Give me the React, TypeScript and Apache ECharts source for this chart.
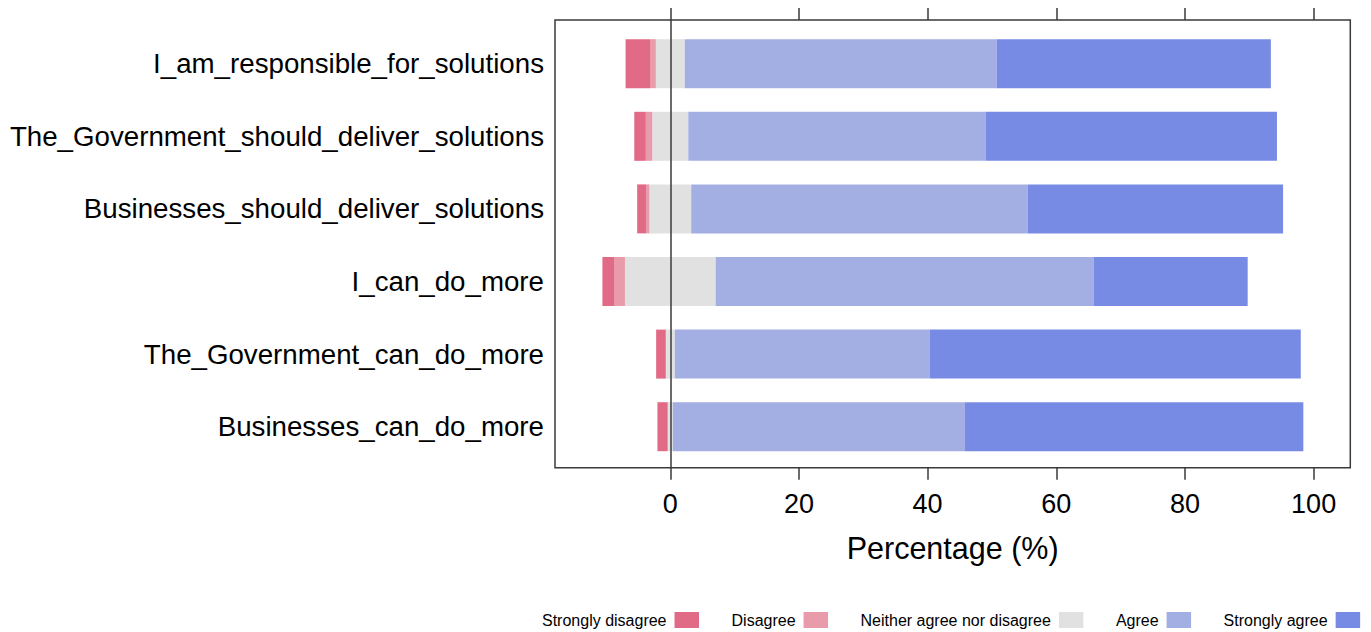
import React, { useEffect, useRef } from "react";
import * as echarts from "echarts";

// ---------- data ----------
const categories = [
  "I_am_responsible_for_solutions",
  "The_Government_should_deliver_solutions",
  "Businesses_should_deliver_solutions",
  "I_can_do_more",
  "The_Government_can_do_more",
  "Businesses_can_do_more",
];
const levelNames = [
  "Strongly disagree",
  "Disagree",
  "Neither agree nor disagree",
  "Agree",
  "Strongly agree",
];
const stronglyDisagree = [3.8, 1.8, 1.4, 1.8, 1.5, 1.6];
const disagree = [0.9, 1.0, 0.5, 1.7, 0, 0];
const neutral = [4.5, 5.6, 6.5, 14.1, 1.4, 0.8];
const agree = [48.5, 46.2, 52.3, 58.8, 39.6, 45.4];
const stronglyAgree = [42.6, 45.3, 39.7, 23.9, 57.7, 52.6];
const xTicks = [0, 20, 40, 60, 80, 100];
const xMin = -17.92;
const xMax = 105.7;

// ---------- styles ----------
const levelColors = ["#E16A86", "#E89BAA", "#E1E1E1", "#A3AEE3", "#778BE4"];
const FONT = "'Liberation Sans', Arial, Helvetica, sans-serif";
const INK = "#3a3a3a";

export default function App() {
  const ref = useRef<HTMLDivElement>(null);

  useEffect(() => {
    if (!ref.current) return;
    const chart = echarts.init(ref.current, undefined, { renderer: "svg" });

    const bar = (name: string, data: number[], color: string) => ({
      type: "bar",
      name,
      stack: "likert",
      xAxisIndex: 2,
      yAxisIndex: 1,
      barWidth: 49,
      data,
      itemStyle: { color },
      z: 3,
      emphasis: { disabled: true },
    });

    const option: any = {
      animation: false,
      grid: [
        {
          left: 555,
          top: 20,
          width: 795.3,
          height: 447.7,
          show: true,
          borderColor: INK,
          borderWidth: 1.5,
          backgroundColor: "transparent",
        },
        { left: 555, top: 27.4, width: 795.3, height: 435.6 },
      ],
      xAxis: [
        {
          gridIndex: 0,
          type: "value",
          position: "bottom",
          min: xMin,
          max: xMax,
          axisLine: { show: false },
          splitLine: { show: false },
          axisTick: {
            show: true,
            length: 12,
            customValues: xTicks,
            lineStyle: { color: INK, width: 1.5 },
          },
          axisLabel: {
            customValues: xTicks,
            margin: 23,
            fontSize: 27,
            color: "#000",
            fontFamily: FONT,
          },
          name: "Percentage (%)",
          nameLocation: "middle",
          nameGap: 65,
          nameTextStyle: { fontSize: 30.5, color: "#000", fontFamily: FONT },
        },
        {
          gridIndex: 0,
          type: "value",
          position: "top",
          min: xMin,
          max: xMax,
          axisLine: { show: false },
          splitLine: { show: false },
          axisTick: {
            show: true,
            length: 12,
            customValues: xTicks,
            lineStyle: { color: INK, width: 1.5 },
          },
          axisLabel: { show: false },
        },
        { gridIndex: 1, type: "value", min: xMin, max: xMax, show: false },
      ],
      yAxis: [
        { gridIndex: 0, type: "value", min: 0, max: 1, show: false },
        {
          gridIndex: 1,
          type: "category",
          data: categories,
          inverse: true,
          axisLine: { show: false },
          axisTick: { show: false },
          splitLine: { show: false },
          axisLabel: {
            margin: 11,
            fontSize: 27.7,
            color: "#000",
            fontFamily: FONT,
            padding: [6, 0, 0, 0],
          },
        },
      ],
      legend: {
        left: 542,
        top: 612,
        padding: 0,
        itemWidth: 24.5,
        itemHeight: 16,
        itemGap: 32.5,
        align: "right",
        icon: "rect",
        selectedMode: false,
        data: levelNames,
        textStyle: {
          fontSize: 16,
          color: "#000",
          fontFamily: FONT,
          padding: [0, 3, 0, 0],
        },
      },
      series: [
        {
          type: "scatter",
          name: "zero",
          xAxisIndex: 0,
          yAxisIndex: 0,
          data: [],
          silent: true,
          z: 1,
          markLine: {
            silent: true,
            symbol: ["none", "none"],
            label: { show: false },
            lineStyle: { color: INK, width: 1.5, type: "solid" },
            data: [{ xAxis: 0 }],
          },
        },
        bar(levelNames[2], neutral.map((v) => -v / 2), levelColors[2]),
        bar(levelNames[1], disagree.map((v) => -v), levelColors[1]),
        bar(levelNames[0], stronglyDisagree.map((v) => -v), levelColors[0]),
        bar(levelNames[2], neutral.map((v) => v / 2), levelColors[2]),
        bar(levelNames[3], agree, levelColors[3]),
        bar(levelNames[4], stronglyAgree, levelColors[4]),
      ],
    };

    chart.setOption(option);
    return () => chart.dispose();
  }, []);

  return (
    <div
      ref={ref}
      style={{ position: "fixed", left: 0, top: 0, width: 1371, height: 632, background: "#fff" }}
    />
  );
}
